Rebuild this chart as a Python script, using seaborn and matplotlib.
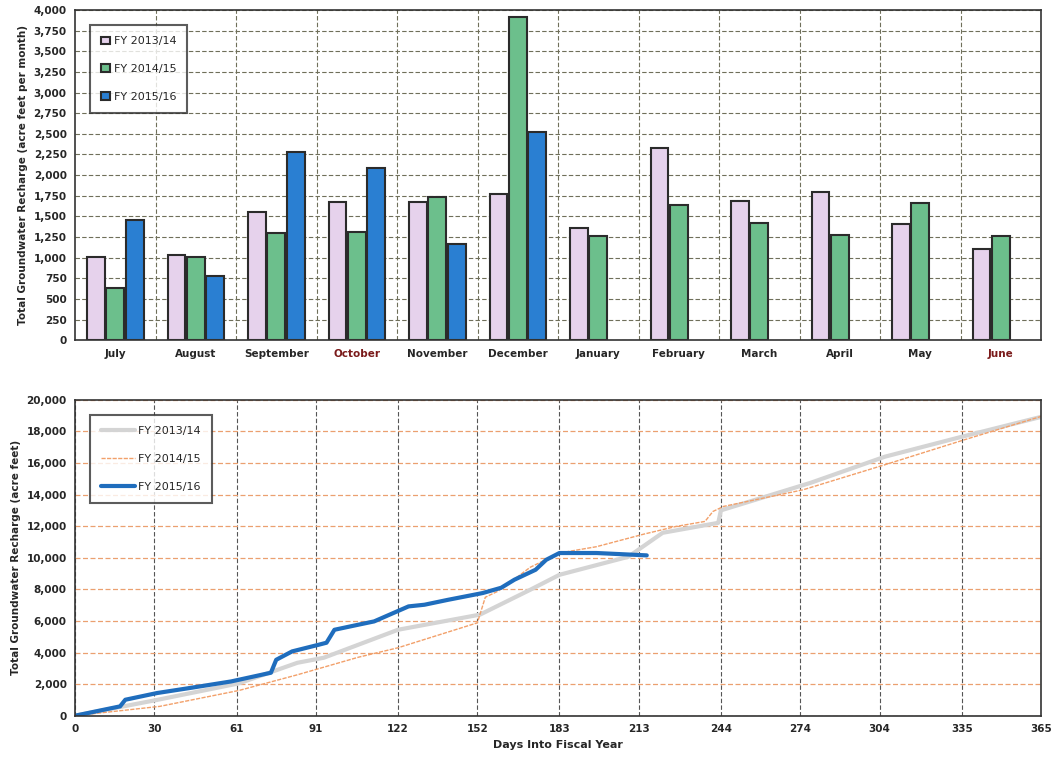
import numpy as np
import pandas as pd
import seaborn as sns
import matplotlib.pyplot as plt
from matplotlib.ticker import FuncFormatter

# monthly recharge (acre feet per month)
months = ['July', 'August', 'September', 'October', 'November', 'December',
          'January', 'February', 'March', 'April', 'May', 'June']
fy1314 = [1006, 1030, 1550, 1670, 1676, 1767, 1357, 2323, 1685, 1790, 1406, 1111]
fy1415 = [630, 1006, 1297, 1313, 1737, 3911, 1264, 1636, 1422, 1272, 1664, 1260]
fy1516 = [1455, 776, 2279, 2085, 1164, 2525, np.nan, np.nan, np.nan, np.nan, np.nan, np.nan]
series = ['FY 2013/14', 'FY 2014/15', 'FY 2015/16']

# cumulative recharge (acre feet) vs days into fiscal year
grey_days = [0, 31, 62, 84, 94, 122, 153, 172, 183, 209, 222, 243, 244, 278, 306, 335, 365]
grey_vals = [0, 1000, 2050, 3350, 3670, 5440, 6400, 7975, 8920, 10060, 11580, 12210, 13000,
             14750, 16400, 17660, 18920]
orange_days = [0, 32, 62, 84, 107, 122, 152, 155, 160, 172, 183, 197, 215, 227, 238, 241, 245,
               275, 306, 336, 365]
orange_vals = [0, 590, 1600, 2590, 3700, 4300, 5880, 7500, 7900, 9400, 10300, 10700, 11500,
               11980, 12300, 12930, 13250, 14300, 15890, 17470, 18950]
blue_days = [0, 17, 19, 31, 44, 59, 74, 76, 82, 92, 95, 98, 107, 113, 126, 132, 141, 154, 161,
             166, 174, 178, 183, 197, 216]
blue_vals = [0, 590, 1010, 1435, 1770, 2170, 2720, 3540, 4070, 4490, 4620, 5440, 5760, 5970,
             6920, 7025, 7340, 7765, 8100, 8610, 9240, 9870, 10300, 10300, 10150]

day_ticks = [0, 30, 61, 91, 122, 152, 183, 213, 244, 274, 304, 335, 365]

sns.set_style('white')
plt.rcParams['font.family'] = ['DejaVu Sans']

fig = plt.figure(figsize=(10.57, 7.63), dpi=100)
ax1 = fig.add_axes([0.071, 0.554, 0.914, 0.433])
ax2 = fig.add_axes([0.071, 0.062, 0.914, 0.414])

comma = FuncFormatter(lambda v, p: f'{v:,.0f}')

# ---- top: monthly bars ----
df = pd.DataFrame({'Month': months * 3,
                   'FY': np.repeat(series, 12),
                   'Recharge': fy1314 + fy1415 + fy1516})
bar_colors = {'FY 2013/14': '#e6d2ec', 'FY 2014/15': '#6cbf8c', 'FY 2015/16': '#2a7fd2'}
sns.barplot(data=df, x='Month', y='Recharge', hue='FY', palette=bar_colors, ax=ax1,
            width=0.72, edgecolor='#2b2b2b', linewidth=1.5, saturation=1, gap=0.08)

ax1.set_ylim(0, 4000)
ax1.set_xlim(-0.5, 11.5)
ax1.set_yticks(np.arange(0, 4001, 250))
ax1.yaxis.set_major_formatter(comma)
ax1.set_axisbelow(True)
ax1.grid(True, axis='y', linestyle=(0, (4, 2)), color='#6f6f5a', linewidth=0.8)
for b in np.arange(0.5, 11, 1):
    ax1.axvline(b, linestyle=(0, (4, 2)), color='#6f6f5a', linewidth=0.8, zorder=0)
ax1.set_xlabel('')
ax1.set_ylabel('Total Groundwater Recharge (acre feet per month)', fontsize=7.5,
               fontweight='bold')
ax1.tick_params(axis='both', labelsize=7.5, length=0, pad=6)
for lab in ax1.get_yticklabels():
    lab.set_fontweight('bold')
for lab in ax1.get_xticklabels():
    lab.set_fontweight('bold')
    if lab.get_text() in ('October', 'June'):
        lab.set_color('#7a1a1a')
for s in ax1.spines.values():
    s.set_color('#333333')
    s.set_linewidth(1.2)
leg1 = ax1.legend(loc='upper left', bbox_to_anchor=(0.01, 0.97), fontsize=8,
                  frameon=True, fancybox=False, edgecolor='#333333', labelspacing=1.6,
                  borderpad=1.0, handlelength=0.8, handletextpad=0.3)
leg1.get_frame().set_linewidth(1.5)

# ---- bottom: cumulative lines ----
sns.lineplot(x=grey_days, y=grey_vals, ax=ax2, color='#d4d4d4', linewidth=3,
             sort=False, estimator=None, label='FY 2013/14')
sns.lineplot(x=orange_days, y=orange_vals, ax=ax2, color='#f2a06a', linewidth=1,
             sort=False, estimator=None, label='FY 2014/15', linestyle=(0, (3, 1)))
sns.lineplot(x=blue_days, y=blue_vals, ax=ax2, color='#1f6dbd', linewidth=3,
             sort=False, estimator=None, label='FY 2015/16')

ax2.set_xlim(0, 365)
ax2.set_ylim(0, 20000)
ax2.set_xticks(day_ticks)
ax2.set_yticks(np.arange(0, 20001, 2000))
ax2.yaxis.set_major_formatter(comma)
ax2.set_axisbelow(True)
ax2.grid(True, axis='y', linestyle=(0, (4, 2)), color='#eba070', linewidth=0.9)
ax2.grid(True, axis='x', linestyle=(0, (4, 2)), color='#555555', linewidth=0.8)
ax2.set_xlabel('Days Into Fiscal Year', fontsize=8, fontweight='bold')
ax2.set_ylabel('Total Groundwater Recharge (acre feet)', fontsize=7.5, fontweight='bold')
ax2.tick_params(axis='both', labelsize=7.5, length=0, pad=6)
for lab in ax2.get_xticklabels() + ax2.get_yticklabels():
    lab.set_fontweight('bold')
for s in ax2.spines.values():
    s.set_color('#333333')
    s.set_linewidth(1.2)
leg2 = ax2.legend(loc='upper left', bbox_to_anchor=(0.01, 0.97), fontsize=8,
                  frameon=True, fancybox=False, edgecolor='#333333', labelspacing=1.6,
                  borderpad=1.0, handlelength=3, handletextpad=0.3)
leg2.get_frame().set_linewidth(1.5)

fig.savefig('out.png', dpi=100, facecolor='white')
